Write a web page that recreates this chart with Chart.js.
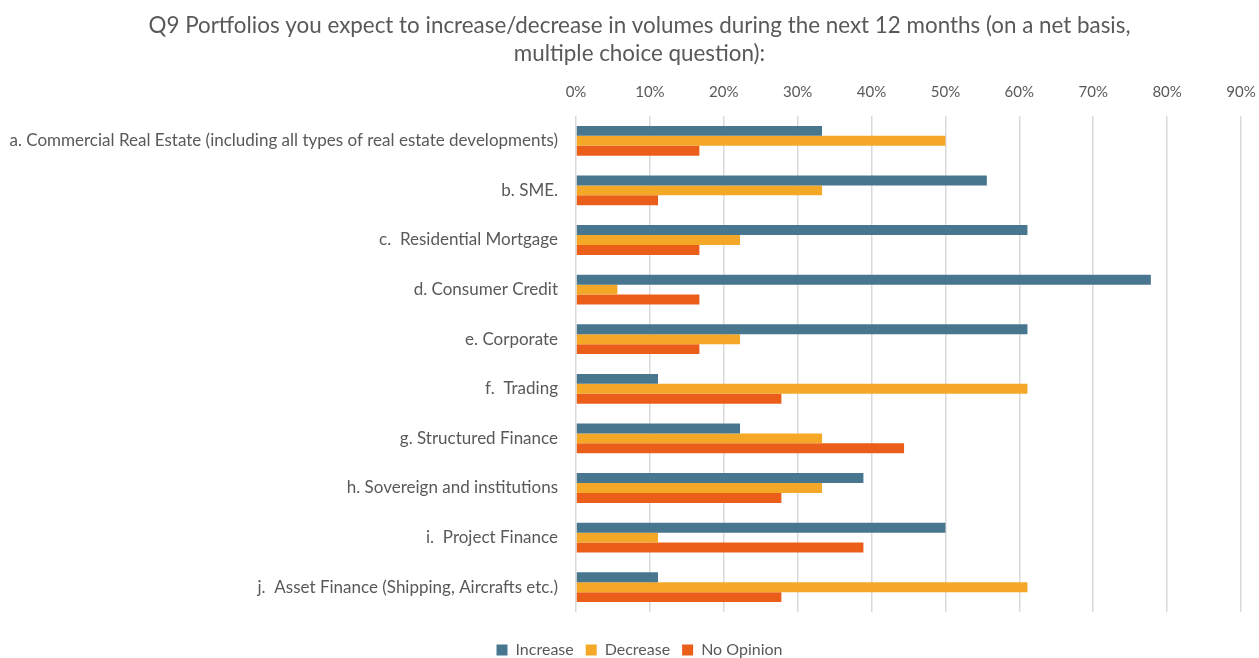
<!DOCTYPE html>
<html>
<head>
<meta charset="utf-8">
<script src="https://cdn.jsdelivr.net/npm/chart.js@4"></script>
<style>
html,body{margin:0;padding:0;background:#fff;}
#wrap{width:1259px;height:658px;position:relative;}
</style>
</head>
<body>
<div id="wrap"><canvas id="c" width="1259" height="658"></canvas></div>
<script>
const categories = [
  "a. Commercial Real Estate (including all types of real estate developments)",
  "b. SME.",
  "c.  Residential Mortgage",
  "d. Consumer Credit",
  "e. Corporate",
  "f.  Trading",
  "g. Structured Finance",
  "h. Sovereign and institutions",
  "i.  Project Finance",
  "j.  Asset Finance (Shipping, Aircrafts etc.)"
];
const increase  = [33.3, 55.6, 61.1, 77.8, 61.1, 11.1, 22.2, 38.9, 50.0, 11.1];
const decrease  = [50.0, 33.3, 22.2, 5.6, 22.2, 61.1, 33.3, 33.3, 11.1, 61.1];
const noOpinion = [16.7, 11.1, 16.7, 16.7, 16.7, 27.8, 44.4, 27.8, 38.9, 27.8];
const titleLines = ["Q9 Portfolios you expect to increase/decrease in volumes during the next 12 months (on a net basis,", "multiple choice question):"];

const FONT = "Lato, 'Open Sans', sans-serif";
const GREY = "#595959";

const boxShift = {
  id: 'boxShift',
  beforeLayout(chart) {
    const lg = chart.legend;
    if (lg && !lg._patched) {
      const f = lg.fit, d = lg.draw;
      lg.fit = function () { f.call(this); this.height = 46; };
      lg.draw = function () {
        const ctx = this.ctx; ctx.save(); ctx.translate(10, 18); d.call(this); ctx.restore();
      };
      lg._patched = true;
    }
    const tt = chart.titleBlock;
    if (tt && !tt._patched) {
      const d2 = tt.draw;
      tt.draw = function () {
        const ctx = this.ctx; ctx.save(); ctx.translate(10, 0); d2.call(this); ctx.restore();
      };
      tt._patched = true;
    }
  }
};

new Chart(document.getElementById('c'), {
  type: 'bar',
  data: {
    labels: categories,
    datasets: [
      {label: 'Increase', data: increase, backgroundColor: '#48768f'},
      {label: 'Decrease', data: decrease, backgroundColor: '#f5a727'},
      {label: 'No Opinion', data: noOpinion, backgroundColor: '#ea5e1a'}
    ]
  },
  plugins: [boxShift],
  options: {
    indexAxis: 'y',
    responsive: false,
    animation: false,
    devicePixelRatio: 1,
    layout: {padding: {left: 0, right: 0, top: 0, bottom: 0}},
    datasets: {bar: {barPercentage: 1.0, categoryPercentage: 0.6}},
    scales: {
      x: {
        position: 'top',
        min: 0, max: 90,
        ticks: {stepSize: 10, callback: v => v + '%', color: GREY, font: {family: FONT, size: 15}, padding: 15},
        grid: {color: '#d9d9d9', lineWidth: 1.5, drawTicks: false},
        border: {display: false},
        afterFit: s => { s.paddingRight = 18; }
      },
      y: {
        ticks: {color: GREY, font: {family: FONT, size: 17}, padding: 10},
        grid: {display: false},
        border: {display: false},
        afterFit: s => { s.width = 576; }
      }
    },
    plugins: {
      title: {
        display: true,
        text: titleLines,
        color: GREY,
        font: {family: FONT, size: 22.4, weight: 'normal', lineHeight: 1.25},
        padding: {top: 12, bottom: 0}
      },
      legend: {
        position: 'bottom',
        labels: {color: GREY, font: {family: FONT, size: 16}, boxWidth: 11, boxHeight: 11, padding: 12}
      },
      tooltip: {enabled: false}
    }
  }
});
</script>
</body>
</html>
